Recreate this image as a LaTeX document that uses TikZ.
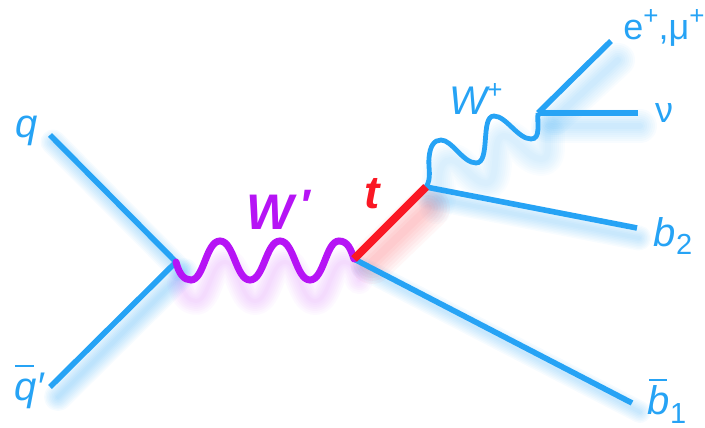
\documentclass[tikz,border=0pt]{standalone}
\usepackage{fontspec}
\setmainfont{Liberation Sans}
\definecolor{fermion}{RGB}{38,163,245}
\definecolor{wprime}{RGB}{182,20,245}
\definecolor{topq}{RGB}{250,24,36}
\newcommand\barred[1]{\rlap{\raisebox{0.84em}{\hspace{0.03em}\rule{0.46em}{0.055em}}}#1}
\newcommand\supplus{\raisebox{0.42em}{\fontsize{26}{26}\selectfont\upshape +}}
\newcommand\subnum[1]{\raisebox{-0.22em}{\fontsize{29}{29}\selectfont\upshape #1}}
\newcommand\glowpath[6]{%
  \foreach \w in {#5}{%
    \draw[draw=#1,opacity=#6,line width=\w pt,line cap=round,line join=round,
      transform canvas={xshift=#2pt,yshift=-#3pt}] #4;}}
\tikzset{
  x=1pt,y=-1pt,
  fermionline/.style={draw=fermion,line width=5.6pt},
  wavy/.style={draw=wprime,line width=7pt,line cap=round},
  wplusline/.style={draw=fermion,line width=4.8pt},
  topline/.style={draw=topq,line width=8pt},
  lbl/.style={text=fermion,font=\fontsize{40}{40}\selectfont\itshape,inner sep=0pt},
  lblup/.style={text=fermion,font=\fontsize{36}{36}\selectfont,inner sep=0pt},
}
\begin{document}
\begin{tikzpicture}
\useasboundingbox (0,0) rectangle (705,428);
\coordinate (q) at (50,135);
\coordinate (qb) at (50,387);
\coordinate (v1) at (176,262);
\coordinate (v2) at (354,259);
\coordinate (v3) at (426,187);
\coordinate (v4) at (538,113);
\coordinate (lep) at (611,41);
\coordinate (nu) at (638,113);
\coordinate (b2) at (637,228);
\coordinate (b1) at (632,403);
\coordinate (tga) at (372,262);
\coordinate (tgb) at (428,208);
\coordinate (lga) at (555,118);
\coordinate (lgb) at (618,60);
\coordinate (nga) at (548,126);
\coordinate (ngb) at (640,126);
\def\wprimepath{(v1) .. controls (179,274) and (184,280) .. (191,280)
  .. controls (204,280) and (206,241) .. (220,241)
  .. controls (234,241) and (236,280) .. (250,280)
  .. controls (264,280) and (266,241) .. (280,241)
  .. controls (294,241) and (296,280) .. (310,280)
  .. controls (324,280) and (326,241) .. (339,241)
  .. controls (348,241) and (351,250) .. (v2)}
\def\wpluspath{(v3) .. controls (432,178) and (428,168) .. (429,158)
  .. controls (430,146) and (434,140) .. (441,140)
  .. controls (452,140) and (463,163) .. (476,163)
  .. controls (491,163) and (480,116) .. (494,116)
  .. controls (506,116) and (518,139) .. (531,139)
  .. controls (541,139) and (537,124) .. (v4)}
% glows
\glowpath{fermion}{3}{7}{(q) -- (v1)}{4,7,10,13,16,19,22,25}{.04}
\glowpath{fermion}{8}{10}{(qb) -- (v1)}{4,7,10,13,16,19,22,25,28}{.04}
\glowpath{fermion}{8}{9}{(v2) -- (b1)}{4,7,10,13,16,19,22}{.04}
\glowpath{fermion}{2}{10}{(v3) -- (b2)}{4,7,10,13,16,19,22,25}{.035}
\glowpath{fermion}{0}{0}{(lga) -- (lgb)}{6,10,14,18,22,26,30,34}{.03}
\glowpath{fermion}{0}{0}{(nga) -- (ngb)}{6,10,14,18,22,26,30,34}{.03}
\glowpath{fermion}{10}{20}{\wpluspath}{6,10,14,18,22,26,30,34}{.022}
\glowpath{wprime}{5}{21}{\wprimepath}{4,8,12,16,20,24,28}{.025}
\glowpath{topq}{0}{0}{(tga) -- (tgb)}{8,14,20,26,32,38,44}{.035}
% lines
\draw[fermionline] (q) -- (v1);
\draw[fermionline] (qb) -- (v1);
\draw[fermionline] (v2) -- (b1);
\draw[fermionline] (v3) -- (b2);
\draw[fermionline] (v4) -- (lep);
\draw[fermionline] (v4) -- (nu);
\draw[wplusline] \wpluspath;
\draw[wavy] \wprimepath;
\draw[topline] (v2) -- (v3);
% labels
\node[lbl] (lq) at (27,131) {q};
\node[lbl] (lqb) at (29,387) {\barred{q}′};
\node[lbl,text=wprime,font=\fontsize{50}{50}\selectfont\bfseries\itshape] (lw) at (270,212) {W};
\node[text=wprime,font=\fontsize{44}{44}\selectfont\bfseries\itshape,inner sep=0pt] (lwp) at (305,205) {′};
\node[lbl,text=topq,font=\fontsize{46}{46}\selectfont\bfseries\itshape] (lt) at (372,194) {t};
\node[lbl] (lwplus) at (476,99) {W\supplus};
\node[lblup] (llep) at (664,28) {e\supplus,μ\supplus};
\node[lblup] (lnu) at (664,113) {ν};
\node[lbl] (lb2) at (673,236) {b\subnum{2}};
\node[lbl] (lb1) at (667,401) {\barred{b}\subnum{1}};
\end{tikzpicture}
\end{document}
